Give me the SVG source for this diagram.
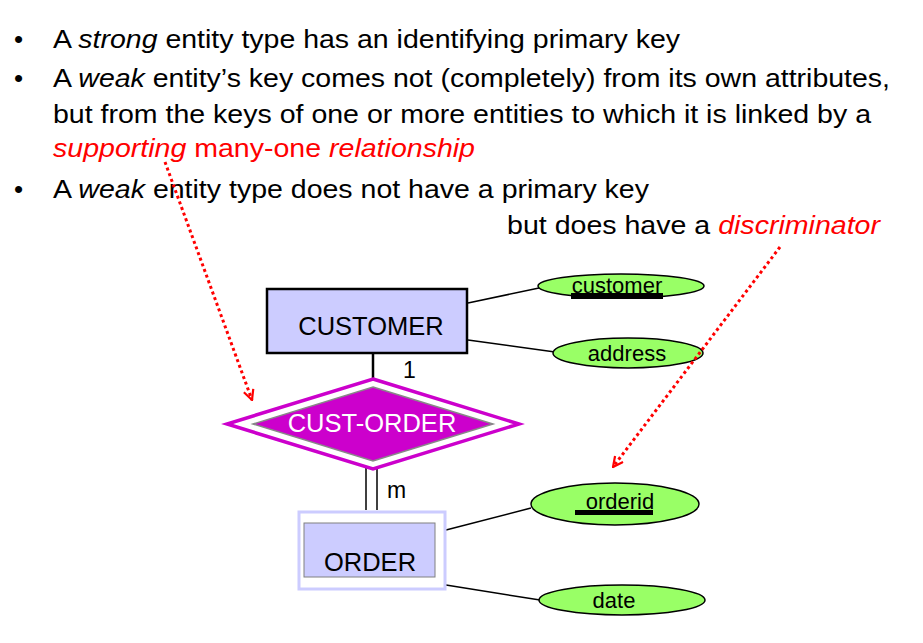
<svg xmlns="http://www.w3.org/2000/svg" width="923" height="643" viewBox="0 0 923 643">
<style>
text{font-family:"Liberation Sans",Arial,sans-serif;}
.b{font-size:26px;fill:#000;}
.r{fill:#ff0000;}
.lbl{font-size:25.5px;text-anchor:middle;}
.att{font-size:22px;text-anchor:middle;fill:#000;}
.ell{fill:#99ff66;stroke:#000;stroke-width:1.5;}
.ln{stroke:#000;stroke-width:1.5;fill:none;}
.dot{stroke:#ff0000;stroke-width:3;stroke-dasharray:3 3;fill:none;marker-end:url(#ah);}
</style>
<defs>
<marker id="ah" viewBox="0 0 12 12" refX="11" refY="6" markerWidth="12" markerHeight="12" markerUnits="userSpaceOnUse" orient="auto">
<path d="M1,1 L11,6 L1,11" fill="none" stroke="#ff0000" stroke-width="2.2"/>
</marker>
</defs>
<rect width="923" height="643" fill="#fff"/>
<g id="bullets">
<text class="b" x="14" y="48">•</text>
<text class="b" x="53" y="48" textLength="627" lengthAdjust="spacingAndGlyphs">A <tspan font-style="italic">strong</tspan> entity type has an identifying primary key</text>
<text class="b" x="14" y="87">•</text>
<text class="b" x="53" y="87" textLength="837" lengthAdjust="spacingAndGlyphs">A <tspan font-style="italic">weak</tspan> entity’s key comes not (completely) from its own attributes,</text>
<text class="b" x="53" y="123" textLength="818" lengthAdjust="spacingAndGlyphs">but from the keys of one or more entities to which it is linked by a</text>
<text class="b r" x="53" y="157" textLength="422" lengthAdjust="spacingAndGlyphs"><tspan font-style="italic">supporting</tspan> many-one <tspan font-style="italic">relationship</tspan></text>
<text class="b" x="14" y="198">•</text>
<text class="b" x="53" y="198" textLength="596" lengthAdjust="spacingAndGlyphs">A <tspan font-style="italic">weak</tspan> entity type does not have a primary key</text>
<text class="b" x="507" y="234" textLength="373" lengthAdjust="spacingAndGlyphs">but does have a <tspan class="r" font-style="italic">discriminator</tspan></text>
</g>
<g id="connectors">
<line class="ln" x1="468" y1="303" x2="539" y2="288"/>
<line class="ln" x1="468" y1="340" x2="555" y2="352"/>
<line x1="373" y1="353" x2="373" y2="385" stroke="#000" stroke-width="2.5"/>
<line class="ln" x1="366" y1="466" x2="366" y2="510"/>
<line class="ln" x1="377" y1="466" x2="377" y2="510"/>
<line class="ln" x1="446" y1="530" x2="531" y2="508"/>
<line class="ln" x1="446" y1="585" x2="540" y2="600"/>
<text x="403" y="378" font-size="23" fill="#000">1</text>
<text x="387" y="498" font-size="23" fill="#000">m</text>
</g>
<g id="customer">
<rect x="267" y="289" width="200" height="64" fill="#ccccff" stroke="#000" stroke-width="2.5"/>
<text class="lbl" x="371" y="335">CUSTOMER</text>
</g>
<g id="cust-order">
<polygon points="373,379 519,424 373,469 227,424" fill="#fff" stroke="#cc00cc" stroke-width="3.5"/>
<polygon points="373,387 493,424 373,461 253,424" fill="#cc00cc" stroke="#888" stroke-width="1.5"/>
<text class="lbl" x="372" y="432" fill="#fff">CUST-ORDER</text>
</g>
<g id="order">
<rect x="299" y="512" width="146" height="77" fill="#fff" stroke="#ccccff" stroke-width="3"/>
<rect x="304" y="523" width="131" height="54" fill="#ccccff" stroke="#808080" stroke-width="1"/>
<text class="lbl" x="370" y="571">ORDER</text>
</g>
<g id="attr-customer">
<ellipse class="ell" cx="621" cy="286" rx="83" ry="12"/>
<rect x="571" y="293" width="92" height="6" fill="#000"/>
<text class="att" x="617" y="293">customer</text>
</g>
<g id="attr-address">
<ellipse class="ell" cx="628" cy="353" rx="75" ry="15"/>
<text class="att" x="627" y="361">address</text>
</g>
<g id="attr-orderid">
<ellipse class="ell" cx="615" cy="504" rx="84" ry="21"/>
<rect x="575" y="510" width="78" height="5" fill="#000"/>
<text class="att" x="620" y="509">orderid</text>
</g>
<g id="attr-date">
<ellipse class="ell" cx="622" cy="600" rx="83" ry="15"/>
<text class="att" x="614" y="608">date</text>
</g>
<g id="annotations">
<line class="dot" x1="165" y1="162" x2="252" y2="400"/>
<line class="dot" x1="780" y1="247" x2="613" y2="467"/>
</g>
</svg>
